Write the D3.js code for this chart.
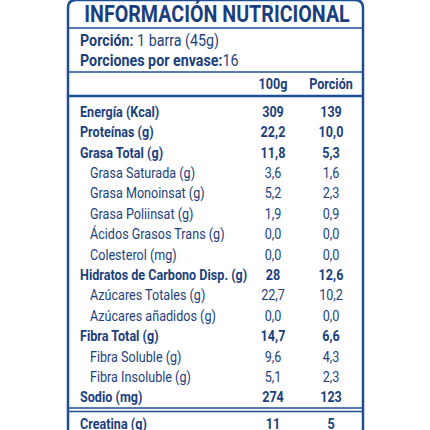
<!DOCTYPE html><html><head><meta charset="utf-8"><script src="https://cdn.jsdelivr.net/npm/d3@7"></script>
<style>body{margin:0;background:#fff}text{font-family:"Roboto",sans-serif;fill:#1b3f7e}</style></head><body><svg id="c" width="430" height="430"></svg>
<script>
const nutrients=["Energía (Kcal)","Proteínas (g)","Grasa Total (g)","Grasa Saturada (g)","Grasa Monoinsat (g)","Grasa Poliinsat (g)","Ácidos Grasos Trans (g)","Colesterol (mg)","Hidratos de Carbono Disp. (g)","Azúcares Totales (g)","Azúcares añadidos (g)","Fibra Total (g)","Fibra Soluble (g)","Fibra Insoluble (g)","Sodio (mg)"];
const per100=["309","22,2","11,8","3,6","5,2","1,9","0,0","0,0","28","22,7","0,0","14,7","9,6","5,1","274"];
const perPortion=["139","10,0","5,3","1,6","2,3","0,9","0,0","0,0","12,6","10,2","0,0","6,6","4,3","2,3","123"];
const level=[0,0,0,1,1,1,1,1,0,1,1,0,1,1,0];
const columns=["100g","Porción"];
const extraName=["Creatina (g)"],extra100=["11"],extraPortion=["5"];
const blue="#1f4f93";
const svg=d3.select("#c");
const y=d3.scaleBand().domain(d3.range(nutrients.length)).range([101,407]);
const x=d3.scaleOrdinal().domain(columns).range([273,331]);
const S=0.84;
function txt(px,py,s,opt={}){
  const g=svg.append("g").attr("transform",`translate(${px},${py}) scale(${opt.sx||S},1)`);
  const t=g.append("text").attr("font-size",opt.size||15).attr("font-weight",opt.bold?"bold":"normal").attr("text-anchor",opt.anchor||"start");
  if(Array.isArray(s)){s.forEach(([str,b])=>t.append("tspan").attr("font-weight",b?"bold":"normal").text(str));} else t.text(s);
  return t;
}
svg.append("path").attr("d","M68,430 L68,8 Q68,0 76,0 L355,0 Q363,0 363,8 L363,430").attr("fill","none").attr("stroke",blue).attr("stroke-width",2.5);
[[28,1.5],[72,1.5],[96,2.5],[408,1.5],[411.5,1.5]].forEach(([yy,w])=>svg.append("line").attr("x1",68).attr("x2",363).attr("y1",yy).attr("y2",yy).attr("stroke",blue).attr("stroke-width",w));
txt(217,22,"INFORMACIÓN NUTRICIONAL",{size:24,bold:true,anchor:"middle",sx:0.82});
txt(80,46,[["Porción:",1],[" 1 barra (45g)",0]],{size:17});
txt(80,66,[["Porciones por envase:",1],["16",0]],{size:17});
columns.forEach(c=>txt(x(c),89,c,{bold:true,anchor:"middle"}));
nutrients.forEach((d,i)=>{
  const yy=y(i)+y.bandwidth()/2+5.5, b=!level[i];
  txt(level[i]?90:80,yy,d,{bold:b});
  txt(x("100g"),yy,per100[i],{bold:b,anchor:"middle"});
  txt(x("Porción"),yy,perPortion[i],{bold:b,anchor:"middle"});
});
txt(80,429,extraName[0],{bold:true});
txt(x("100g"),429,extra100[0],{bold:true,anchor:"middle"});
txt(x("Porción"),429,extraPortion[0],{bold:true,anchor:"middle"});
</script></body></html>
